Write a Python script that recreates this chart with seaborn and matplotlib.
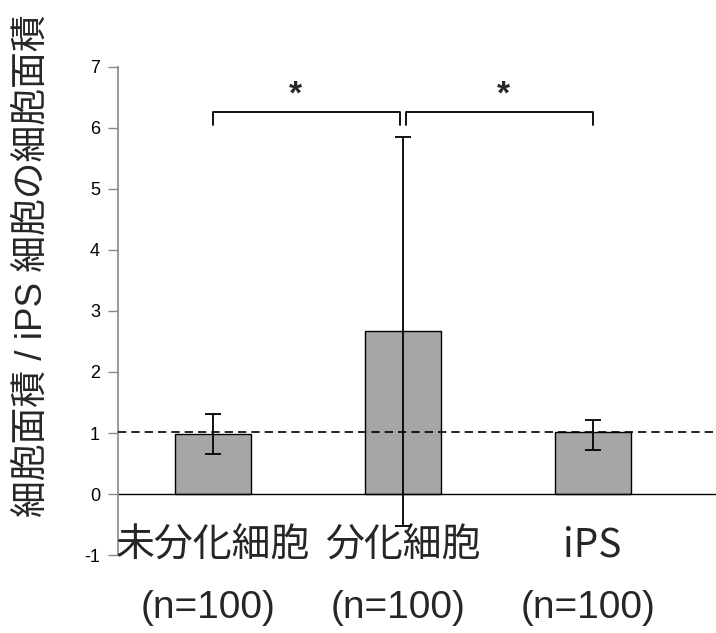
import matplotlib
matplotlib.use("Agg")
import matplotlib.pyplot as plt
import seaborn as sns
import pandas as pd

categories = ["未分化細胞", "分化細胞", "iPS"]
counts = ["(n=100)", "(n=100)", "(n=100)"]
means = [0.98, 2.68, 1.01]
err_low = [0.65, -0.52, 0.72]
err_high = [1.31, 5.86, 1.21]
ref_value = 1.02
yticks = [-1, 0, 1, 2, 3, 4, 5, 6, 7]
ylabel = "細胞面積 / iPS 細胞の細胞面積"
sig_pairs = [(0, 1), (1, 2)]
sig_marks = ["*", "*"]

sns.set_theme(style="white")
fams = ["Liberation Sans", "Noto Sans CJK JP", "DejaVu Sans"]
cjk_fams = ["Noto Sans CJK JP", "DejaVu Sans"]
plt.rcParams["font.family"] = fams

df = pd.DataFrame({"cat": categories, "val": means})

fig = plt.figure(figsize=(7.16, 6.33), dpi=100)
ax = fig.add_axes([0.1648, 0.1232, 0.8352, 0.771])

sns.barplot(data=df, x="cat", y="val", ax=ax, color="#a6a6a6", width=0.4,
            edgecolor="black", linewidth=1.0, errorbar=None, saturation=1)

xs = list(range(len(categories)))
lower = [m - lo for m, lo in zip(means, err_low)]
upper = [hi - m for m, hi in zip(means, err_high)]
ax.errorbar(xs, means, yerr=[lower, upper], fmt="none", ecolor="black",
            elinewidth=1.3, capsize=6, capthick=1.3, zorder=5)

ax.axhline(0, color="black", lw=1.0, zorder=1)
ax.axhline(ref_value, color="black", lw=1.2, ls=(0, (5, 3)), zorder=4)

ax.set_xlim(-0.5, 2.65)
ax.set_ylim(-1, 7)
ax.set_yticks(yticks)
ax.set_yticklabels([str(t) for t in yticks], fontsize=13)
ax.set_xticks([])
ax.set_xlabel("")
ax.set_ylabel(ylabel, fontsize=26.5, fontfamily=fams)
ax.yaxis.set_label_coords(-0.114, 0.592)

for s in ["top", "right", "bottom"]:
    ax.spines[s].set_visible(False)
ax.spines["left"].set_color("#888888")
ax.spines["left"].set_linewidth(1.2)
ax.tick_params(axis="y", direction="out", length=7, width=1.0, color="#888888",
               left=True, pad=6, labelcolor="black")

for x, c, n in zip(xs, categories, counts):
    ax.text(x, -0.85, c, ha="center", va="center", fontsize=28,
            fontfamily=cjk_fams, clip_on=False)
    ax.text(x - 0.025, -1.87, n, ha="center", va="center", fontsize=28,
            clip_on=False)

# significance brackets
by, leg = 6.27, 0.22
offs = [(0.0, -0.015), (0.015, 0.0)]
star_x = [0.437, 1.53]
for (a, b), mark, (oa, ob), sx in zip(sig_pairs, sig_marks, offs, star_x):
    xa, xb = a + oa, b + ob
    ax.plot([xa, xa, xb, xb], [by - leg, by, by, by - leg], color="black", lw=1.3)
    ax.text(sx, by + 0.27, mark, ha="center", va="center",
            fontsize=24, fontweight="bold")

fig.savefig("out.png", dpi=100)
